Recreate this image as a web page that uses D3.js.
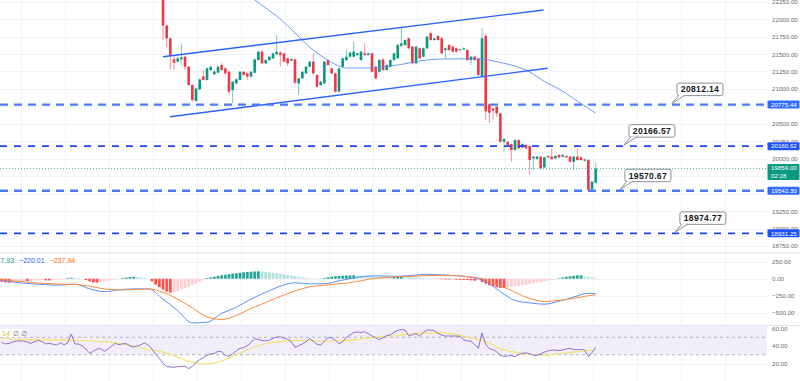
<!DOCTYPE html>
<html>
<head>
<meta charset="utf-8">
<script src="https://cdn.jsdelivr.net/npm/d3@7"></script>
<style>
  html, body { margin: 0; padding: 0; background: #fff; }
  svg { display: block; font-family: "Liberation Sans", Arial, sans-serif; }
</style>
</head>
<body>
<div id="chart"></div>
<script>
// candles, index 0 is the first bar that shows in the price pane
var opens = [22480,21907,21725,21424,21391,21424,21462,21319,21056,20830,20994,21180,21128,21271,21210,21233,21343,21295,21247,20984,
  21080,21128,21247,21223,21176,21233,21414,21534,21367,21414,21438,21496,21520,21510,21438,21405,21424,21080,21152,21223,
  21319,21391,21200,21056,21080,21414,21295,21223,20961,21319,21414,21462,21462,21486,21415,21510,21486,21510,21319,21247,
  21424,21271,21319,21414,21438,21617,21630,21725,21606,21367,21582,21462,21582,21797,21701,21758,21725,21558,21630,21606,
  21582,21558,21570,21558,21414,21462,21438,21176,21760,20780,20720,20746,20650,20244,20244,20211,20125,20268,20163,20197,
  20182,20006,19996,20030,19877,20040,20030,20006,20054,20030,20040,20030,19958,20030,20020,19972,19982,19562,19657];
var highs = [22560,21920,21735,21472,21460,21653,21470,21330,21070,21020,21150,21270,21310,21330,21260,21335,21370,21310,21260,21110,
  21150,21260,21255,21235,21260,21435,21545,21560,21425,21475,21520,21773,21540,21520,21450,21440,21435,21160,21255,21330,
  21400,21510,21210,21115,21400,21425,21305,21235,21305,21450,21560,21535,21677,21520,21545,21653,21520,21520,21330,21425,
  21435,21355,21425,21520,21640,21892,21715,21740,21615,21615,21595,21595,21760,21821,21735,21773,21740,21595,21640,21620,
  21595,21580,21595,21570,21475,21475,21450,21869,21790,20790,20722,20760,20660,20295,20255,20220,20280,20280,20222,20210,
  20195,20040,20045,20040,20030,20050,20149,20050,20065,20065,20050,20040,20040,20149,20030,20000,19995,19680,19934];
var lows = [21700,21600,21280,21271,21380,21343,21271,21040,20817,20810,20980,21120,21120,21250,21200,21225,21260,21200,20913,20793,
  21070,21120,21190,21130,21165,21220,21405,21355,21355,21400,21430,21490,21319,21380,21330,21395,21080,20913,21140,21215,
  21310,21210,21020,21045,21070,21335,21215,20950,20955,21300,21400,21450,21455,21470,21400,21475,21480,21235,21140,21235,
  21260,21260,21310,21405,21430,21605,21620,21570,21355,21355,21425,21450,21570,21690,21690,21690,21500,21438,21545,21520,
  21520,21550,21560,21400,21343,21400,21190,21165,20560,20510,20555,20600,20230,20101,20185,19958,20115,20140,20150,20140,
  19767,19839,19985,19850,19865,20010,19985,19995,20010,20020,20010,19945,19839,19970,19970,19960,19540,19545,19650];
var closes = [21907,21725,21472,21376,21438,21453,21319,21056,20841,21008,21137,21130,21295,21319,21250,21319,21271,21223,20961,21104,
  21138,21247,21200,21176,21247,21424,21534,21367,21414,21462,21510,21534,21486,21391,21367,21429,21090,21152,21247,21319,
  21391,21223,21032,21104,21391,21343,21223,20961,21295,21438,21462,21520,21534,21510,21534,21486,21510,21247,21152,21414,
  21271,21343,21414,21510,21630,21653,21701,21582,21367,21606,21438,21582,21749,21701,21725,21701,21510,21582,21558,21534,
  21534,21568,21582,21414,21462,21414,21200,21725,20680,20660,20690,20650,20244,20283,20197,20125,20268,20149,20211,20149,
  19982,20030,20030,19862,20020,20020,19996,20040,20020,20054,20020,19958,20030,19982,19982,19990,19552,19672,19859];

// moving average on price, [bar index, value]
var maPoints = [[24,22317],[28,22160],[32,22002],[36,21801],[40,21601],[44,21443],[48,21329],[50,21300],[56,21300],[60,21314],
  [64,21343],[72,21415],[76,21429],[84,21433],[88,21422],[92,21379],[96,21329],[100,21243],[104,21107],[108,20999],
  [112,20863],[116,20720],[118,20655]];

// channel drawn on the chart, [bar index, price]
var channelUpper = [[0,21462],[103.8,22131]];
var channelLower = [[1.9,20602],[104.9,21296]];

// horizontal levels and notes
var levelValues = [20775.44, 20180.62, 19542.30, 18931.25];
var levelHeavy = [true, false, true, false];
var noteTexts = ['20812.14', '20166.57', '19570.67', '18974.77'];
var noteIndex = [138.8, 125.7, 124.6, 139.6];
var lastPrice = 19859.00;
var lastTimer = '02:28';

// indicators start 44 bars before the first candle
var indStart = -44;
var macdHist = [-45,-55,-60,-58,-45,-38,-33,-36,-30,-25,-22,-20,-24,-26,-22,-18,-14,-8,10,14,
  10,6,2,-20,-40,-55,-60,-50,-40,-32,-22,-12,-3,10,18,24,28,25,20,12,
  4,-40,-85,-125,-160,-190,-205,-200,-180,-160,-140,-120,-95,-70,-45,-20,10,20,30,40,
  50,58,66,74,82,88,94,99,103,106,110,104,98,92,86,78,70,62,54,45,
  37,28,20,12,6,3,-3,4,12,22,30,36,40,44,46,48,50,46,42,38,
  34,30,27,25,23,22,20,24,28,32,30,27,24,20,16,12,9,7,5,-5,
  -8,-10,-12,-10,-14,-16,-18,-20,-25,-30,-25,-50,-75,-95,-110,-125,-135,-138,-130,-122,
  -114,-105,-96,-87,-78,-68,-58,-48,-38,-28,-18,-8,8,18,28,36,42,48,50,30,
  25,22,8];
var macdLineIdx = [-44,-40,-36,-32,-28,-24,-20,-16,-12,-8,-4,0,4,8,12,16,20,24,28,32,36,40,44,48,52,56,60,64,68,72,76,80,84,88,92,96,100,104,108,112,116,118];
var macdLine = [-25,-55,-75,-88,-95,-80,-150,-190,-165,-150,-150,-300,-470,-650,-640,-510,-420,-300,-200,-110,-60,-75,-75,-30,10,40,40,35,50,65,55,45,20,-40,-190,-320,-355,-375,-330,-270,-215,-220];
var signalLine = [-10,-35,-55,-70,-80,-85,-110,-150,-165,-160,-150,-200,-300,-430,-560,-600,-540,-440,-350,-260,-180,-120,-95,-75,-50,-10,15,30,35,45,50,45,25,-10,-100,-200,-290,-335,-320,-290,-250,-238];

var rsi = [44,42.3,43,44.5,45.7,45.7,45.7,44.5,43,45,46.5,45,42.3,43,42,41,43.8,41.5,43.5,53.7,
  42.3,42.3,40,36.5,31.6,34,36.5,37,34,36.5,40,43,41.5,42.5,42.8,40,39,40,41.5,43.5,
  41,36.5,30.5,26,20,16.5,16,15.7,16.5,16.5,17,14,17,21,24.5,26.5,29.5,31,31.5,34,
  33.5,29.5,28,31,34.5,37.4,38.2,40.5,44,48.5,47.5,46.3,45.8,46.7,48.8,50.2,50.5,49,47.5,45,
  38.5,40.3,42.3,45,48.5,45.5,42,41,45.5,49.5,49.5,46.7,42.5,45,49.8,52.6,55.4,56,55.5,56.2,
  54,51.5,49.5,47.3,49.5,51.8,52.6,55.6,57.8,58.8,58.3,52,52.8,54.3,51,55.6,58.3,58.2,57.6,54.5,
  52.4,51.4,51.4,51.4,51.4,51,47,46,45.5,41.5,37.4,55,42,37,35.7,33.5,29.6,28.2,28.7,29,
  27.8,30.2,31.7,32.2,31.1,29.4,29.5,30.9,33,34.6,35.4,35.3,34.8,35.5,36.5,37.4,36,35.8,36.1,35.4,
  27.8,32.4,38.5];
var rsiMaIdx = macdLineIdx;
var rsiMa = [48.8,47.5,47,47,47,46.5,46,45,43,40,36,33,27,21.5,19.5,22.5,30,37.5,42.5,45,46.3,46,45.5,46,47,49,51,52,54,55,55,53,49,45,37,33,30.5,29.5,31,33,34.5,35.5];

var macdLegend = ['7.93', '\u2212220.01', '\u2212237.94'];
var priceTicks = [22250, 22000, 21750, 21500, 21250, 21000, 20500, 20250, 20000, 19250, 19000, 18750];
var priceGrid = d3.range(18750, 22251, 250);
var macdTicks = [250, 0, -250, -500];
var rsiTicks = [60, 40, 20];

var W = 800, H = 381, plotRight = 767;
var upColor = '#089981', downColor = '#f23645';

var svg = d3.select('#chart').append('svg').attr('width', W).attr('height', H);

var x = d3.scaleLinear().domain([0, 118]).range([163, 595.7]);
var yPrice = d3.scaleLinear().domain([18750, 22250]).range([246, 1.7]);
var yMacd = d3.scaleLinear().domain([-500, 250]).range([312.7, 261.7]);
var yRsi = d3.scaleLinear().domain([20, 60]).range([363.5, 328.5]);

var panes = [[0, 252.5], [253.5, 325], [325.5, 381]];

svg.append('defs').selectAll('clipPath').data(panes).enter().append('clipPath')
    .attr('id', function (d, i) { return 'clip' + i; })
    .append('rect').attr('x', 0).attr('y', function (d) { return d[0]; })
    .attr('width', plotRight).attr('height', function (d) { return d[1] - d[0]; });

// rsi band
svg.append('rect').attr('x', 0).attr('y', panes[2][0]).attr('width', plotRight)
    .attr('height', yRsi(30) - panes[2][0]).attr('fill', 'rgba(126,87,194,0.1)');

// grid
var grid = svg.append('g').attr('stroke', '#f0f3fa').attr('stroke-width', 1);
d3.range(0, 17).forEach(function (k) {
    var gx = Math.round(20.7 + 44 * k) + 0.5;
    grid.append('line').attr('x1', gx).attr('x2', gx).attr('y1', 0).attr('y2', H);
});
priceGrid.forEach(function (t) {
    var gy = Math.round(yPrice(t)) + 0.5;
    grid.append('line').attr('x1', 0).attr('x2', plotRight).attr('y1', gy).attr('y2', gy);
});
macdTicks.forEach(function (t) {
    var gy = Math.round(yMacd(t)) + 0.5;
    grid.append('line').attr('x1', 0).attr('x2', plotRight).attr('y1', gy).attr('y2', gy);
});
rsiTicks.forEach(function (t) {
    var gy = Math.round(yRsi(t)) + 0.5;
    grid.append('line').attr('x1', 0).attr('x2', plotRight).attr('y1', gy).attr('y2', gy);
});

// pane separators
[252.5, 325].forEach(function (sy) {
    svg.append('line').attr('x1', 0).attr('x2', W).attr('y1', sy + 0.5).attr('y2', sy + 0.5)
        .attr('stroke', '#e0e3eb');
});

// ---- price pane
var pricePane = svg.append('g').attr('clip-path', 'url(#clip0)');

var candles = d3.range(opens.length).map(function (i) {
    return { i: i, o: opens[i], h: highs[i], l: lows[i], c: closes[i] };
});

pricePane.append('g').selectAll('line').data(candles).enter().append('line')
    .attr('x1', function (d) { return x(d.i); })
    .attr('x2', function (d) { return x(d.i); })
    .attr('y1', function (d) { return yPrice(d.h); })
    .attr('y2', function (d) { return yPrice(d.l); })
    .attr('stroke', function (d) { return d.c >= d.o ? upColor : downColor; })
    .attr('stroke-opacity', 0.55)
    .attr('stroke-width', 1);

pricePane.append('g').selectAll('rect').data(candles).enter().append('rect')
    .attr('x', function (d) { return x(d.i) - 1.3; })
    .attr('width', 2.6)
    .attr('y', function (d) { return yPrice(Math.max(d.o, d.c)); })
    .attr('height', function (d) { return Math.max(1, Math.abs(yPrice(d.o) - yPrice(d.c))); })
    .attr('fill', function (d) { return d.c >= d.o ? upColor : downColor; });

var priceLine = d3.line()
    .x(function (d) { return x(d[0]); })
    .y(function (d) { return yPrice(d[1]); });

pricePane.append('path').datum(maPoints)
    .attr('d', priceLine.curve(d3.curveMonotoneX))
    .attr('fill', 'none').attr('stroke', '#5b8ff9').attr('stroke-width', 0.9);

priceLine.curve(d3.curveLinear);
[channelUpper, channelLower].forEach(function (seg) {
    pricePane.append('path').datum(seg).attr('d', priceLine)
        .attr('fill', 'none').attr('stroke', '#2962ff').attr('stroke-width', 1.4);
});

// current price line
pricePane.append('line').attr('x1', 0).attr('x2', plotRight)
    .attr('y1', yPrice(lastPrice)).attr('y2', yPrice(lastPrice))
    .attr('stroke', upColor).attr('stroke-width', 1).attr('stroke-dasharray', '1,2').attr('opacity', 0.7);

levelValues.forEach(function (v, k) {
    pricePane.append('line').attr('x1', 0).attr('x2', plotRight)
        .attr('y1', yPrice(v)).attr('y2', yPrice(v))
        .attr('stroke', levelHeavy[k] ? '#4a7cf6' : '#1e44ee')
        .attr('stroke-width', levelHeavy[k] ? 2.4 : 1.6)
        .attr('stroke-dasharray', levelHeavy[k] ? '8,6' : '7,7');
});

// notes with a tail down to the level
noteTexts.forEach(function (t, k) {
    var tx = x(noteIndex[k]), ty = yPrice(levelValues[k]) - 1;
    var bx = tx + 5, bw = 46, bh = 12.5, by = ty - 8 - bh;
    var g = svg.append('g');
    g.append('rect').attr('x', bx).attr('y', by).attr('width', bw).attr('height', bh).attr('rx', 2)
        .attr('fill', '#fff').attr('stroke', '#8c8f96').attr('stroke-width', 1);
    g.append('path').attr('d', 'M' + (bx + 2) + ',' + (by + bh - 0.5) + 'L' + tx + ',' + ty + 'L' + (bx + 8) + ',' + (by + bh - 0.5))
        .attr('fill', '#fff').attr('stroke', '#8c8f96').attr('stroke-width', 1);
    g.append('text').attr('x', bx + bw / 2).attr('y', by + bh / 2 + 3.1).attr('text-anchor', 'middle')
        .attr('font-size', 8.6).attr('font-weight', 'bold').attr('letter-spacing', 0.3).attr('fill', '#131722').text(t);
});

// ---- macd pane
var macdPane = svg.append('g').attr('clip-path', 'url(#clip1)');
var hist = macdHist.map(function (v, k) {
    var prev = k > 0 ? macdHist[k - 1] : v;
    var col;
    if (v >= 0) col = v >= prev ? '#26a69a' : '#b2dfdb';
    else col = v <= prev ? '#ff5252' : '#ffcdd2';
    return { i: indStart + k, v: v, col: col };
});
macdPane.append('g').selectAll('rect').data(hist).enter().append('rect')
    .attr('x', function (d) { return x(d.i) - 1.4; })
    .attr('width', 2.8)
    .attr('y', function (d) { return Math.min(yMacd(d.v), yMacd(0)); })
    .attr('height', function (d) { return Math.abs(yMacd(d.v) - yMacd(0)); })
    .attr('fill', function (d) { return d.col; });

var macdPath = d3.line().curve(d3.curveMonotoneX)
    .x(function (d) { return x(d[0]); })
    .y(function (d) { return yMacd(d[1]); });
macdPane.append('path').datum(d3.zip(macdLineIdx, macdLine)).attr('d', macdPath)
    .attr('fill', 'none').attr('stroke', '#5b8ff9').attr('stroke-width', 1);
macdPane.append('path').datum(d3.zip(macdLineIdx, signalLine)).attr('d', macdPath)
    .attr('fill', 'none').attr('stroke', '#ff8a3d').attr('stroke-width', 1);

var legend = svg.append('text').attr('x', 0.5).attr('y', 263).attr('font-size', 7);
var legendColors = ['#089981', '#2962ff', '#ff6d00'];
macdLegend.forEach(function (t, k) {
    legend.append('tspan').attr('fill', legendColors[k]).attr('dx', k ? 5 : 0).text(t);
});

// ---- rsi pane
var rsiPane = svg.append('g').attr('clip-path', 'url(#clip2)');
[50, 30].forEach(function (v) {
    rsiPane.append('line').attr('x1', 0).attr('x2', plotRight).attr('y1', yRsi(v)).attr('y2', yRsi(v))
        .attr('stroke', '#b2b5be').attr('stroke-dasharray', '3,3');
});
var rsiPath = d3.line()
    .x(function (d) { return x(d[0]); })
    .y(function (d) { return yRsi(d[1]); });
rsiPane.append('path').datum(rsiMaIdx.map(function (d, k) { return [d, rsiMa[k]]; }))
    .attr('d', rsiPath.curve(d3.curveMonotoneX))
    .attr('fill', 'none').attr('stroke', '#f5e26a').attr('stroke-width', 1.1);
rsiPane.append('path').datum(rsi.map(function (v, k) { return [indStart + k, v]; }))
    .attr('d', rsiPath.curve(d3.curveLinear))
    .attr('fill', 'none').attr('stroke', '#8e6fd1').attr('stroke-width', 1);

svg.append('rect').attr('x', 0).attr('y', 329).attr('width', 23).attr('height', 8).attr('fill', 'rgba(255,255,255,0.8)');
var rsiLegend = svg.append('text').attr('x', 2).attr('y', 335.5).attr('font-size', 7);
rsiLegend.append('tspan').attr('fill', '#e3c21a').text('14');
rsiLegend.append('tspan').attr('fill', '#787b86').attr('dx', 3).text('\u2205 \u2205');

// ---- axes
function styleAxis(g) {
    g.select('.domain').remove();
    g.selectAll('text').attr('fill', '#6a6d78').attr('font-size', 6.2)
        .attr('font-family', '"Liberation Sans", Arial, sans-serif');
}
svg.append('g').attr('transform', 'translate(' + plotRight + ',0)')
    .call(d3.axisRight(yPrice).tickValues(priceTicks).tickFormat(d3.format('.2f')).tickSize(0).tickPadding(5))
    .call(styleAxis);
svg.append('g').attr('transform', 'translate(' + plotRight + ',0)')
    .call(d3.axisRight(yMacd).tickValues(macdTicks).tickFormat(d3.format('.2f')).tickSize(0).tickPadding(5))
    .call(styleAxis);
svg.append('g').attr('transform', 'translate(' + plotRight + ',0)')
    .call(d3.axisRight(yRsi).tickValues(rsiTicks).tickFormat(d3.format('.2f')).tickSize(0).tickPadding(5))
    .call(styleAxis);

// price labels on the scale
levelValues.forEach(function (v, k) {
    var ly = yPrice(v);
    svg.append('rect').attr('x', plotRight + 0.5).attr('y', ly - 4).attr('width', 32).attr('height', 8).attr('rx', 1)
        .attr('fill', levelHeavy[k] ? '#2f6bff' : '#2053f5');
    svg.append('text').attr('x', plotRight + 4).attr('y', ly + 2.2).attr('font-size', 6.2)
        .attr('fill', '#fff').text(d3.format('.2f')(v));
});
var lpY = yPrice(lastPrice);
svg.append('rect').attr('x', plotRight + 0.5).attr('y', lpY - 4.5).attr('width', 32).attr('height', 16).attr('rx', 1)
    .attr('fill', upColor);
svg.append('text').attr('x', plotRight + 4).attr('y', lpY + 1.8).attr('font-size', 6.2).attr('fill', '#fff')
    .text(d3.format('.2f')(lastPrice));
svg.append('text').attr('x', plotRight + 4).attr('y', lpY + 9.2).attr('font-size', 6.2).attr('fill', '#fff')
    .text(lastTimer);
</script>
</body>
</html>
